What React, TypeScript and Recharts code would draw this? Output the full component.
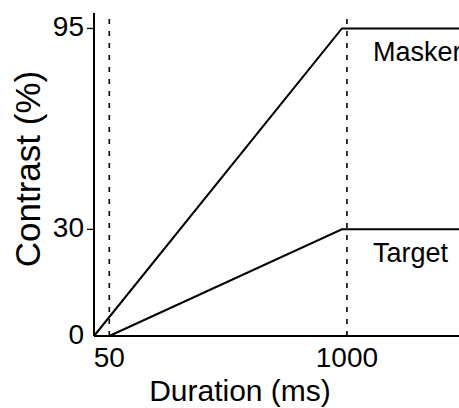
import React from 'react';
import { LineChart, Line, XAxis, YAxis, ReferenceLine, ReferenceDot } from 'recharts';

// Stimulus time course: onset / ramp end / end of plotted window (ms)
const maskerTime = [0, 980, 1500];
const maskerContrast = [0, 95, 95];
const targetTime = [50, 980, 1500];
const targetContrast = [0, 30, 30];

// Axis annotations
const timeTicks = [50, 1000];
const contrastTicks = [0, 30, 95];
const markerTimes = [50, 1000];
const seriesNames = ['Masker', 'Target'];
const labelTime = 1104;

const maskerData = maskerTime.map((t, i) => ({ t, c: maskerContrast[i] }));
const targetData = targetTime.map((t, i) => ({ t, c: targetContrast[i] }));

const FONT = '"Liberation Sans", Arial, Helvetica, sans-serif';

// Linear scale with one kink: the stretch below `bend` is scaled by `stretch`
function bentScale(bend: number, stretch: number): any {
  let dom: number[] = [0, 1];
  let rng: number[] = [0, 1];
  const warp = (v: number) => (v < bend ? v * stretch : bend * stretch + (v - bend));
  const unwarp = (w: number) => (w < bend * stretch ? w / stretch : w - bend * stretch + bend);
  const scale: any = (v: any) => {
    const a = warp(dom[0]);
    const b = warp(dom[dom.length - 1]);
    const r0 = rng[0];
    const r1 = rng[rng.length - 1];
    return r0 + ((warp(Number(v)) - a) / (b - a)) * (r1 - r0);
  };
  scale.domain = (d?: any[]) => {
    if (d === undefined) return dom.slice();
    dom = d.map(Number);
    return scale;
  };
  scale.range = (r?: number[]) => {
    if (r === undefined) return rng.slice();
    rng = r.slice();
    return scale;
  };
  scale.invert = (p: number) => {
    const a = warp(dom[0]);
    const b = warp(dom[dom.length - 1]);
    const r0 = rng[0];
    const r1 = rng[rng.length - 1];
    return unwarp(a + ((p - r0) / (r1 - r0)) * (b - a));
  };
  scale.ticks = (n = 5) => {
    const lo = dom[0];
    const hi = dom[dom.length - 1];
    const out: number[] = [];
    for (let i = 0; i <= n; i++) out.push(lo + ((hi - lo) * i) / n);
    return out;
  };
  scale.tickFormat = () => (v: number) => String(v);
  scale.nice = () => scale;
  scale.clamp = () => scale;
  scale.copy = () => bentScale(bend, stretch).domain(dom).range(rng);
  return scale;
}

const timeScale = bentScale(50, 1.223);
const contrastScale = bentScale(30, 1.15);

const ContrastTick = (p: any) => {
  const { x, y, payload } = p;
  return (
    <g>
      {payload.value !== 0 && (
        <line x1={x + 3} x2={x + 10} y1={y} y2={y} stroke="#000" strokeWidth={1.3} />
      )}
      <text x={x} y={y} dy="0.27em" textAnchor="end" fontSize={28} fill="#000" fontFamily={FONT}>
        {payload.value}
      </text>
    </g>
  );
};

const TimeTick = (p: any) => {
  const { x, y, payload } = p;
  return (
    <text x={x} y={y} dy="0.71em" textAnchor="middle" fontSize={28} fill="#000" fontFamily={FONT}>
      {payload.value}
    </text>
  );
};

const seriesLabel = (name: string) => (props: any) => {
  const vb = props.viewBox || {};
  return (
    <text x={vb.x} y={vb.y + 33} textAnchor="start" fontSize={27} fill="#000" fontFamily={FONT}>
      {name}
    </text>
  );
};

const xTitle = (props: any) => {
  const vb = props.viewBox || {};
  return (
    <text x={vb.x + 146} y={vb.y + 65} textAnchor="middle" fontSize={30} fill="#000" fontFamily={FONT}>
      Duration (ms)
    </text>
  );
};

const yTitle = (props: any) => {
  const vb = props.viewBox || {};
  const cx = vb.x + 40;
  const cy = vb.y + 156;
  return (
    <text
      x={cx}
      y={cy}
      transform={`rotate(-90, ${cx}, ${cy})`}
      textAnchor="middle"
      fontSize={35}
      fill="#000"
      fontFamily={FONT}
    >
      Contrast (%)
    </text>
  );
};

export default function App() {
  return (
    <div
      style={{
        position: 'absolute',
        left: 0,
        top: 0,
        width: 459,
        height: 408,
        overflow: 'hidden',
        background: '#fff',
        fontFamily: FONT,
      }}
    >
      <LineChart width={480} height={408} margin={{ top: 13, right: 8, bottom: 0, left: 0 }}>
        <XAxis
          xAxisId="frame"
          orientation="top"
          type="number"
          dataKey="t"
          domain={[0, 1500]}
          scale={timeScale}
          height={0}
          tick={false}
          tickLine={false}
          axisLine={{ stroke: '#000', strokeWidth: 2 }}
        />
        <XAxis
          type="number"
          dataKey="t"
          domain={[0, 1500]}
          scale={timeScale}
          ticks={timeTicks}
          height={72}
          tickLine={false}
          tickSize={0}
          tickMargin={11}
          tick={<TimeTick />}
          axisLine={{ stroke: '#000', strokeWidth: 2 }}
          label={xTitle}
        />
        <YAxis
          type="number"
          dataKey="c"
          domain={[0, 100]}
          scale={contrastScale}
          ticks={contrastTicks}
          width={94}
          tickLine={false}
          tickSize={7}
          tickMargin={3}
          tick={<ContrastTick />}
          axisLine={{ stroke: '#000', strokeWidth: 2 }}
          label={yTitle}
        />
        {markerTimes.map((t) => (
          <ReferenceLine
            key={t}
            x={t}
            stroke="#000"
            strokeWidth={1.6}
            strokeDasharray="5 7"
          />
        ))}
        <Line
          data={maskerData}
          dataKey="c"
          type="linear"
          stroke="#000"
          strokeWidth={2}
          dot={false}
          isAnimationActive={false}
        />
        <Line
          data={targetData}
          dataKey="c"
          type="linear"
          stroke="#000"
          strokeWidth={2}
          dot={false}
          isAnimationActive={false}
        />
        <ReferenceDot
          x={labelTime}
          y={maskerContrast[1]}
          r={0}
          fill="none"
          stroke="none"
          label={seriesLabel(seriesNames[0])}
        />
        <ReferenceDot
          x={labelTime}
          y={targetContrast[1]}
          r={0}
          fill="none"
          stroke="none"
          label={seriesLabel(seriesNames[1])}
        />
      </LineChart>
    </div>
  );
}
